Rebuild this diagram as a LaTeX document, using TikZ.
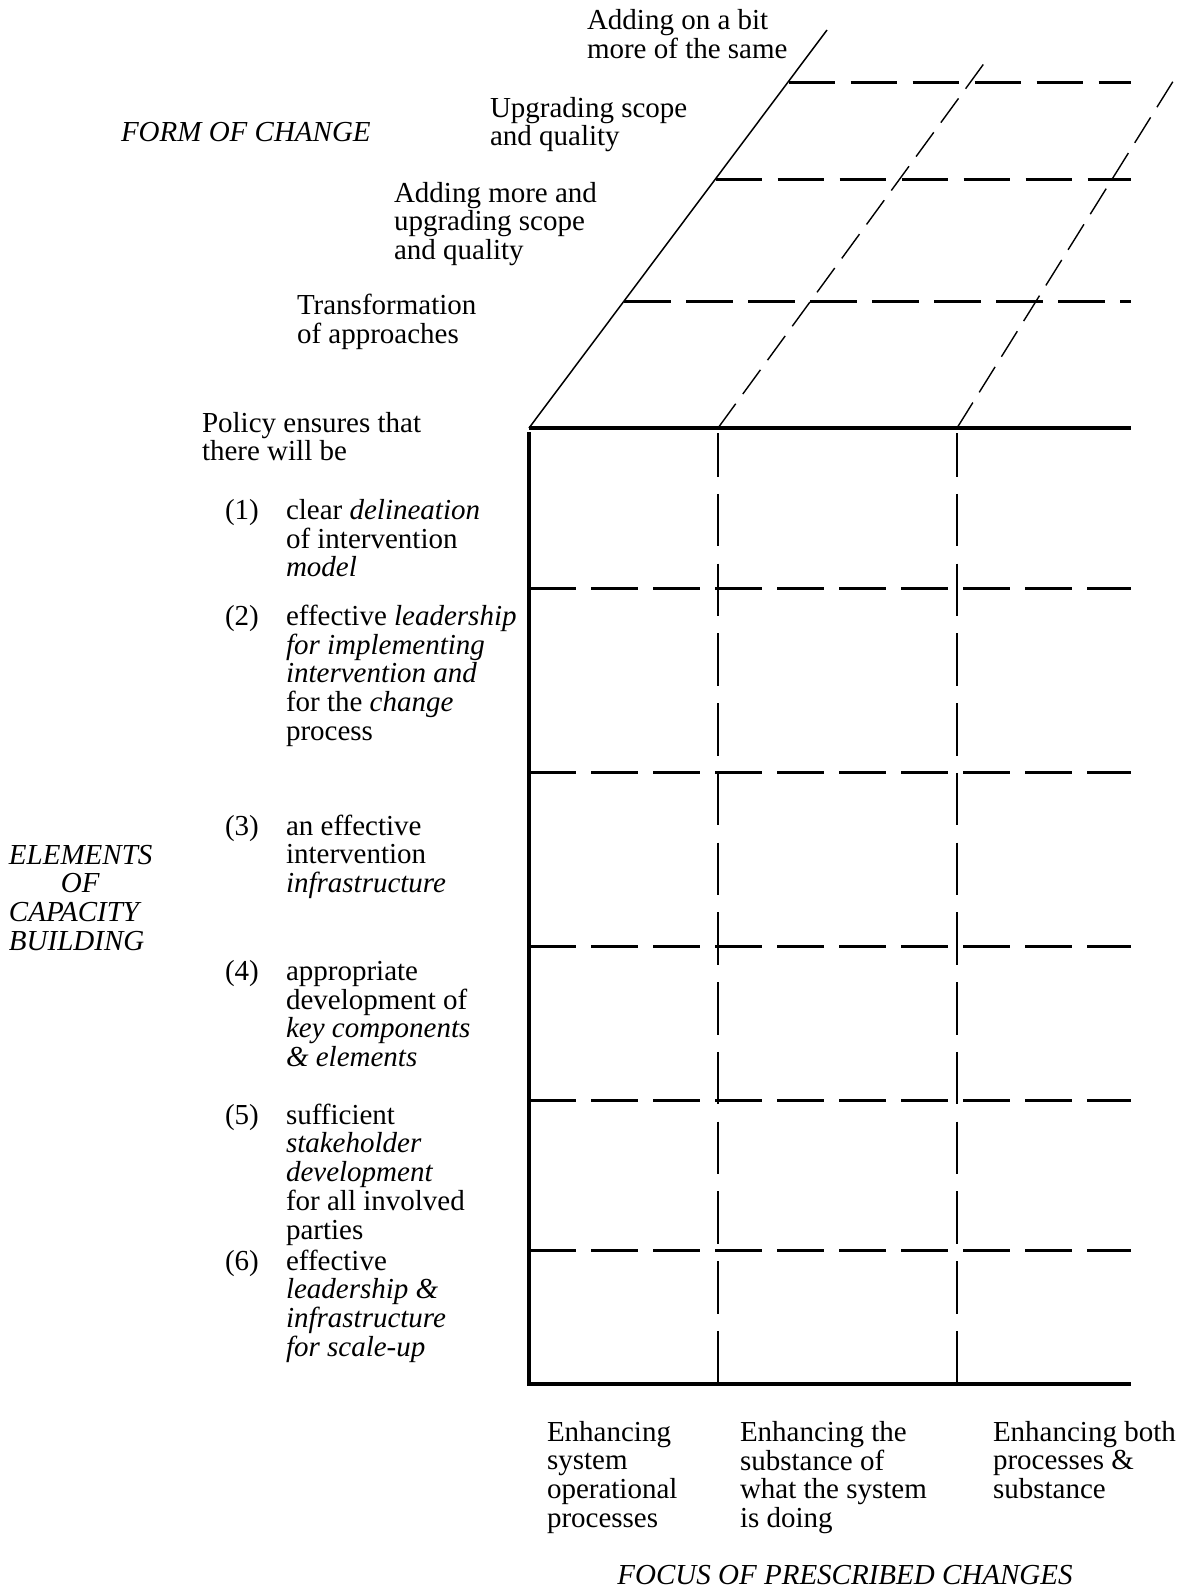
\documentclass[tikz,border=0pt]{standalone}
\usepackage{fontspec}
\setmainfont{Liberation Serif}
\newcommand\blk[1]{\begin{tabular}[t]{@{}l@{}}#1\end{tabular}}
\begin{document}
\begin{tikzpicture}[x=0.5pt,y=-0.5pt,
  every node/.style={inner sep=0pt,outer sep=0pt,font=\fontsize{14.5}{14.35}\selectfont},
  txt/.style={anchor=base west},
  thick solid/.style={line width=1.6pt},
  hdash/.style={line width=1.5pt,dash pattern=on 23.4pt off 7.6pt},
  vdash/.style={line width=1.3pt,dash pattern=on 26.25pt off 8.625pt,dash phase=4.5pt},
  diagsolid/.style={line width=0.75pt},
  diagdash/.style={line width=0.7pt,dash pattern=on 15pt off 6pt}]
\useasboundingbox (0,0) rectangle (1185,1590);
% front face corners and grid points
\coordinate (FTL) at (529,428);
\coordinate (FVT) at (529,432);
\coordinate (FTR) at (1131,428);
\coordinate (FBL) at (529,1384);
\coordinate (FBR) at (1131,1384);
\coordinate (C1T) at (718,433);
\coordinate (C1B) at (718,1384);
\coordinate (C2T) at (957,433);
\coordinate (C2B) at (957,1384);
\foreach \y/\n in {588/1,772/2,946/3,1100/4,1250/5}{
  \coordinate (RL\n) at (529,\y);
  \coordinate (RR\n) at (1131,\y);
}
% back (top) face
\coordinate (D1A) at (529,428);
\coordinate (D1B) at (827,30);
\coordinate (D2A) at (718,428);
\coordinate (D2B) at (988,58);
\coordinate (D3A) at (957,428);
\coordinate (D3B) at (1177,75);
\coordinate (B1L) at (788.5,82);   \coordinate (B1R) at (1131,82);
\coordinate (B2L) at (715.5,179);  \coordinate (B2R) at (1131,179);
\coordinate (B3L) at (624,301);    \coordinate (B3R) at (1131,301);

% solid frame
\draw[thick solid] (FTL) -- (FTR);
\draw[thick solid] (FVT) -- (FBL) -- (FBR);
% front dashed rows
\foreach \n in {1,...,5}{\draw[hdash] (RL\n) -- (RR\n);}
% front dashed columns
\draw[vdash] (C1T) -- (C1B);
\draw[vdash] (C2T) -- (C2B);
% back face
\draw[diagsolid] (D1A) -- (D1B);
\draw[diagdash] (D2A) -- (D2B);
\draw[diagdash] (D3A) -- (D3B);
\draw[hdash] (B1L) -- (B1R);
\draw[hdash] (B2L) -- (B2R);
\draw[hdash] (B3L) -- (B3R);

% top labels
\node[txt] (form) at (121,141) {\itshape FORM OF CHANGE};
\node[txt] (lab1) at (587,29) {\blk{Adding on a bit\\more of the same}};
\node[txt] (lab2) at (490,117) {\blk{Upgrading scope\\and quality}};
\node[txt] (lab3) at (394,202) {\blk{Adding more and\\upgrading scope\\and quality}};
\node[txt] (lab4) at (297,314) {\blk{Transformation\\of approaches}};

% left labels
\node[txt] (policy) at (202,432) {\blk{Policy ensures that\\there will be}};
\node[txt] (n1) at (225,519) {(1)};
\node[txt] (t1) at (286,519) {\blk{clear \textit{delineation}\\of intervention\\\textit{model}}};
\node[txt] (n2) at (225,625) {(2)};
\node[txt] (t2) at (286,625) {\blk{effective \textit{leadership}\\\textit{for implementing}\\\textit{intervention and}\\for the \textit{change}\\process}};
\node[txt] (n3) at (225,835) {(3)};
\node[txt] (t3) at (286,835) {\blk{an effective\\intervention\\\textit{infrastructure}}};
\node[txt] (n4) at (225,980) {(4)};
\node[txt] (t4) at (286,980) {\blk{appropriate\\development of\\\textit{key components}\\\textit{\& elements}}};
\node[txt] (n5) at (225,1124) {(5)};
\node[txt] (t5) at (286,1124) {\blk{sufficient\\\textit{stakeholder}\\\textit{development}\\for all involved\\parties}};
\node[txt] (n6) at (225,1270) {(6)};
\node[txt] (t6) at (286,1270) {\blk{effective\\\textit{leadership \&}\\\textit{infrastructure}\\\textit{for scale-up}}};
\node[txt] (elem) at (9,864) {\itshape\blk{ELEMENTS\\\hspace*{26pt}OF\\CAPACITY\\BUILDING}};

% bottom labels
\node[txt] (e1) at (547,1441) {\blk{Enhancing\\system\\operational\\processes}};
\node[txt] (e2) at (740,1441) {\blk{Enhancing the\\substance of\\what the system\\is doing}};
\node[txt] (e3) at (993,1441) {\blk{Enhancing both\\processes \&\\substance}};
\node[anchor=base] (focus) at (845,1584) {\itshape FOCUS OF PRESCRIBED CHANGES};
\end{tikzpicture}
\end{document}
